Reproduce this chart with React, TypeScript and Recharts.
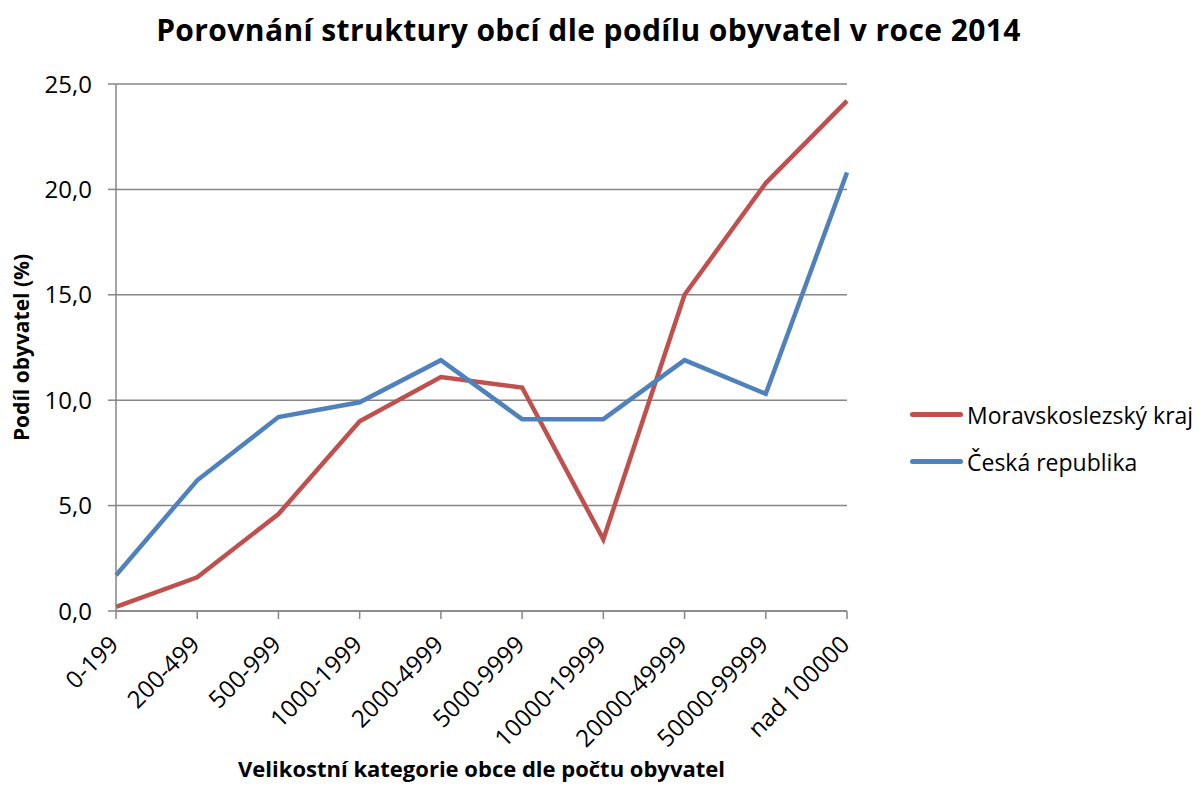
import { LineChart, Line, XAxis, YAxis, CartesianGrid, Legend } from 'recharts';

const categories = [
  '0-199',
  '200-499',
  '500-999',
  '1000-1999',
  '2000-4999',
  '5000-9999',
  '10000-19999',
  '20000-49999',
  '50000-99999',
  'nad 100000',
];
const moravskoslezsky = [0.2, 1.6, 4.6, 9.0, 11.1, 10.6, 3.4, 15.0, 20.3, 24.2];
const ceskaRepublika = [1.7, 6.2, 9.2, 9.9, 11.9, 9.1, 9.1, 11.9, 10.3, 20.8];
const yTicks = [0, 5, 10, 15, 20, 25];

const FONT = '"Open Sans", sans-serif';
const AXIS = '#868686';
const RED = '#C0504D';
const BLUE = '#4F81BD';

const data = categories.map((cat, i) => ({
  cat,
  msk: moravskoslezsky[i],
  cr: ceskaRepublika[i],
}));

function XTick({ x, y, payload }: any) {
  return (
    <g transform={`translate(${x + 4},${y + 25})`}>
      <text
        x={0}
        y={0}
        textAnchor="end"
        transform="rotate(-45)"
        fontFamily={FONT}
        fontSize={24}
        fill="#000"
      >
        {payload.value}
      </text>
    </g>
  );
}

function LegendContent({ payload }: any) {
  return (
    <div style={{ fontFamily: FONT, fontSize: 23, color: '#000' }}>
      {(payload || []).map((item: any) => (
        <div
          key={item.value}
          style={{ display: 'flex', alignItems: 'center', height: 47 }}
        >
          <span
            style={{
              display: 'inline-block',
              width: 53,
              height: 5,
              borderRadius: 3,
              background: item.color,
              marginRight: 4,
            }}
          />
          <span>{item.value}</span>
        </div>
      ))}
    </div>
  );
}

export default function App() {
  return (
    <div
      style={{
        position: 'absolute',
        left: 0,
        top: 0,
        width: 1199,
        height: 790,
        background: '#fff',
      }}
    >
      <div
        style={{
          position: 'absolute',
          top: 12,
          left: 0,
          width: 1177,
          textAlign: 'center',
          fontFamily: FONT,
          fontWeight: 700,
          fontSize: 30,
          letterSpacing: 0.4,
          lineHeight: '36px',
          color: '#000',
          whiteSpace: 'nowrap',
        }}
      >
        Porovnání struktury obcí dle podílu obyvatel v roce 2014
      </div>
      <LineChart
        width={1199}
        height={790}
        data={data}
        margin={{ top: 84, right: 352, bottom: 0, left: 0 }}
      >
        <CartesianGrid vertical={false} stroke={AXIS} strokeWidth={1.5} />
        <XAxis
          dataKey="cat"
          height={179}
          interval={0}
          stroke={AXIS}
          strokeWidth={1.5}
          tickSize={8}
          tick={<XTick />}
          label={{
            value: 'Velikostní kategorie obce dle počtu obyvatel',
            position: 'insideBottom',
            offset: 13,
            style: {
              fontFamily: FONT,
              fontWeight: 700,
              fontSize: 22,
              fill: '#000',
            },
          }}
        />
        <YAxis
          width={116}
          domain={[0, 25]}
          ticks={yTicks}
          interval={0}
          stroke={AXIS}
          strokeWidth={1.5}
          tickSize={8}
          tickMargin={16}
          tickFormatter={(v: number) => v.toFixed(1).replace('.', ',')}
          tick={{ fontFamily: FONT, fontSize: 24, fill: '#000' }}
          label={{
            value: 'Podíl obyvatel (%)',
            angle: -90,
            position: 'insideLeft',
            offset: 22,
            style: {
              fontFamily: FONT,
              fontWeight: 700,
              fontSize: 21,
              fill: '#000',
              textAnchor: 'middle',
            },
          }}
        />
        <Legend
          layout="horizontal"
          verticalAlign="middle"
          content={<LegendContent />}
          wrapperStyle={{ left: 910, top: 391, width: 289, height: 100 }}
        />
        <Line
          type="linear"
          dataKey="msk"
          name="Moravskoslezský kraj"
          stroke={RED}
          strokeWidth={4.5}
          dot={false}
          activeDot={false}
          isAnimationActive={false}
        />
        <Line
          type="linear"
          dataKey="cr"
          name="Česká republika"
          stroke={BLUE}
          strokeWidth={4.5}
          dot={false}
          activeDot={false}
          isAnimationActive={false}
        />
      </LineChart>
    </div>
  );
}
